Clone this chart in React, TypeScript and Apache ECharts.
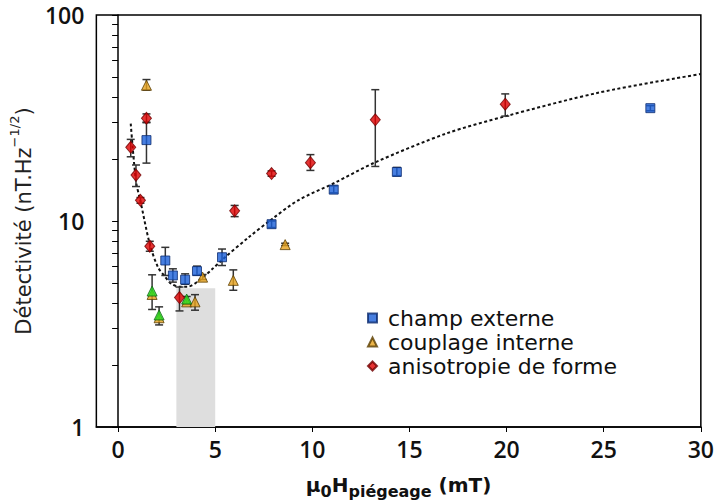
import React, { useEffect, useRef } from "react";
import * as echarts from "echarts";

// ---- data ----
const champX = [1.46, 2.43, 2.82, 3.45, 4.06, 5.35, 7.9, 11.1, 14.35, 27.4];
const champY = [24.7, 6.43, 5.44, 5.19, 5.71, 6.67, 9.65, 14.2, 17.3, 35.3];
const champLo = [19.1, 5.44, 5.05, 4.93, 5.46, 6.08, 9.3, 13.7, 16.6, 34.3];
const champHi = [30.0, 7.45, 5.86, 5.54, 6.04, 7.31, 10.0, 14.8, 18.2, 36.3];

const couplX = [1.46, 1.75, 2.11, 3.53, 3.96, 4.35, 5.93, 8.6];
const couplY = [45.6, 4.4, 3.39, 4.05, 4.05, 5.34, 5.15, 7.68];
const couplLo = [43.2, 3.72, 3.13, 3.95, 3.69, 5.2, 4.61, 7.6];
const couplHi = [48.6, 5.48, 3.83, 4.3, 4.39, 5.5, 5.79, 7.8];

const vertX = [1.75, 2.11, 3.53];
const vertY = [4.57, 3.5, 4.18];

const anisoX = [0.65, 0.92, 1.15, 1.46, 1.63, 3.16, 6.0, 7.9, 9.9, 13.24, 19.93];
const anisoY = [22.8, 16.7, 12.6, 31.5, 7.54, 4.25, 11.2, 17.0, 19.2, 31.0, 36.9];
const anisoLo = [20.5, 14.7, 12.2, 30.2, 7.13, 3.66, 10.5, 16.5, 17.6, 18.4, 32.3];
const anisoHi = [24.9, 18.7, 13.0, 33.1, 7.97, 4.78, 11.9, 17.5, 21.0, 43.4, 41.4];

const fitX = [0.65, 0.92, 1.15, 1.63, 2.05, 2.39, 2.73, 3.16, 3.58, 4.18, 4.86, 5.37, 6.72, 7.91, 9.27, 11.14, 13.2, 16.9, 19.97, 24.8, 30];
const fitY = [29.7, 15.6, 12.5, 7.73, 5.97, 5.4, 4.96, 4.8, 4.8, 5.15, 5.86, 6.5, 8.33, 10.2, 12.6, 15.3, 19.2, 26.6, 32.3, 42.1, 51.7];

const shadeRange = [3, 5];
const shadeTop = 4.72;

const xTicks = [0, 5, 10, 15, 20, 25, 30];
const yLabels = [1, 10, 100];
const yTicks = [1, 2, 3, 4, 5, 6, 7, 8, 9, 10, 20, 30, 40, 50, 60, 70, 80, 90, 100];

const seriesNames = ["champ externe", "couplage interne", "anisotropie de forme"];

const zip = (a: number[], b: number[]) => a.map((v, i) => [v, b[i]]);
const zip3 = (a: number[], b: number[], c: number[]) => a.map((v, i) => [v, b[i], c[i]]);

const FONT = "Open Sans";
const WIDE = "DejaVu Sans";

function errorBars(x: number[], lo: number[], hi: number[]) {
  return {
    type: "custom",
    silent: true,
    z: 3,
    encode: { x: 0, y: [1, 2] },
    data: zip3(x, lo, hi),
    renderItem: (params: any, api: any) => {
      const xv = api.value(0);
      const pLo = api.coord([xv, api.value(1)]);
      const pHi = api.coord([xv, api.value(2)]);
      const hw = 4;
      const st = { stroke: "#333", lineWidth: 1.5 };
      return {
        type: "group",
        children: [
          { type: "line", shape: { x1: pLo[0], y1: pLo[1], x2: pHi[0], y2: pHi[1] }, style: st },
          { type: "line", shape: { x1: pLo[0] - hw, y1: pLo[1], x2: pLo[0] + hw, y2: pLo[1] }, style: st },
          { type: "line", shape: { x1: pHi[0] - hw, y1: pHi[1], x2: pHi[0] + hw, y2: pHi[1] }, style: st },
        ],
      };
    },
  };
}

export default function App() {
  const ref = useRef<HTMLDivElement>(null);
  useEffect(() => {
    if (!ref.current) return;
    const chart = echarts.init(ref.current, null, { renderer: "svg" });
    const option: any = {
      animation: false,
      backgroundColor: "#fff",
      grid: {
        left: 96, right: 10, top: 15, bottom: 73,
        show: true, borderColor: "#000", borderWidth: 1.5, backgroundColor: "transparent",
      },
      legend: {
        data: seriesNames,
        orient: "vertical",
        left: 367,
        top: 306,
        padding: 0,
        itemGap: 0,
        itemWidth: 9,
        itemHeight: 9,
        textStyle: { fontFamily: WIDE, fontSize: 22, color: "#111", lineHeight: 24, padding: [0, 0, 0, 6] },
        selectedMode: false,
      },
      xAxis: {
        type: "value",
        min: -1.12,
        max: 30,
        splitLine: { show: false },
        axisLine: { show: true, lineStyle: { color: "#000", width: 1.5 } },
        axisTick: { show: true, customValues: xTicks, length: 5, lineStyle: { color: "#000", width: 1 } },
        axisLabel: {
          customValues: xTicks, margin: 10, fontFamily: FONT, fontSize: 23, fontWeight: 600, color: "#111",
        },
        name: "{a|μ}{s|0}{a|H}{s|piégeage}{a| (mT)}",
        nameLocation: "middle",
        nameGap: 44,
        nameTextStyle: {
          rich: {
            a: { fontFamily: WIDE, fontSize: 20, fontWeight: "bold", color: "#111", lineHeight: 24, verticalAlign: "bottom" },
            s: { fontFamily: WIDE, fontSize: 16, fontWeight: "bold", color: "#111", lineHeight: 24, verticalAlign: "bottom", padding: [0, 0, -4, 0] },
          },
        },
      },
      yAxis: {
        type: "log",
        logBase: 10,
        min: 1,
        max: 100,
        splitLine: { show: false },
        minorTick: { show: false },
        axisLine: { show: true, lineStyle: { color: "#000", width: 1.5 } },
        axisTick: { show: true, customValues: yTicks, length: 6, lineStyle: { color: "#000", width: 1 } },
        axisLabel: {
          customValues: yLabels, margin: 12, fontFamily: FONT, fontSize: 23, fontWeight: 600, color: "#111",
        },
        name: "{a|Détectivité (nT.Hz}{s|−1/2}{a|)}",
        nameLocation: "middle",
        nameGap: 56,
        nameTextStyle: {
          rich: {
            a: { fontFamily: WIDE, fontSize: 21, color: "#222", lineHeight: 26, verticalAlign: "bottom" },
            s: { fontFamily: WIDE, fontSize: 13, color: "#222", lineHeight: 26, verticalAlign: "top" },
          },
        },
      },
      series: [
        {
          name: "fit",
          type: "line",
          data: zip(fitX, fitY),
          symbol: "none",
          smooth: 0.3,
          z: 2,
          silent: true,
          lineStyle: { color: "#111", width: 2, type: [3, 2.5] },
          markArea: {
            silent: true,
            itemStyle: { color: "#dedede" },
            data: [[{ coord: [shadeRange[0], 1] }, { coord: [shadeRange[1], shadeTop] }]],
          },
        },
        errorBars(champX, champLo, champHi),
        errorBars(couplX, couplLo, couplHi),
        errorBars(anisoX, anisoLo, anisoHi),
        {
          name: "couplage interne",
          type: "scatter",
          z: 4,
          symbol: "triangle",
          symbolSize: 10,
          itemStyle: { color: "#e6a11c", borderColor: "#5a3d00", borderWidth: 1 },
          data: zip(couplX, couplY),
        },
        {
          name: "vert",
          type: "scatter",
          z: 5,
          symbol: "triangle",
          symbolSize: 10,
          itemStyle: { color: "#22e022", borderColor: "#116611", borderWidth: 1 },
          data: zip(vertX, vertY),
        },
        {
          name: "champ externe",
          type: "scatter",
          z: 5,
          symbol: "rect",
          symbolSize: 9,
          itemStyle: { color: "#1a5fd8", borderColor: "#0b2a6e", borderWidth: 1 },
          data: zip(champX, champY),
        },
        {
          name: "anisotropie de forme",
          type: "scatter",
          z: 6,
          symbol: "diamond",
          symbolSize: [10, 12],
          itemStyle: { color: "#e00000", borderColor: "#700000", borderWidth: 1 },
          data: zip(anisoX, anisoY),
        },
      ],
    };
    chart.setOption(option);
    return () => chart.dispose();
  }, []);
  return <div ref={ref} style={{ width: 717, height: 504, position: "absolute", left: 0, top: 0 }} />;
}
